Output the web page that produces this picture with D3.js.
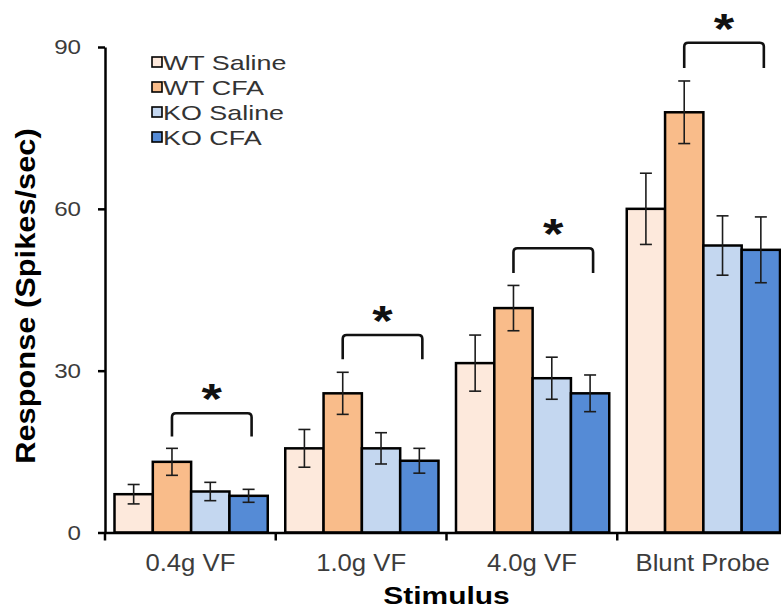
<!DOCTYPE html>
<html>
<head>
<meta charset="utf-8">
<script src="https://cdn.jsdelivr.net/npm/d3@7"></script>
<style>
  body { margin: 0; background: #fff; }
  text { font-family: "Liberation Sans", Arial, sans-serif; }
</style>
</head>
<body>
<script>
const categories = ["0.4g VF", "1.0g VF", "4.0g VF", "Blunt Probe"];
const series = ["WT Saline", "WT CFA", "KO Saline", "KO CFA"];
const colors = ["#fde9dc", "#f9bc8a", "#c4d7f0", "#558bd6"];

// mean response per stimulus, one array per group
const wtSaline = [7.1, 15.6, 31.4, 60.0];
const wtCFA = [13.1, 25.8, 41.6, 77.9];
const koSaline = [7.6, 15.6, 28.6, 53.2];
const koCFA = [6.8, 13.3, 25.8, 52.4];

// error bar half-lengths
const wtSalineErr = [1.8, 3.5, 5.2, 6.6];
const wtCFAErr = [2.5, 3.9, 4.2, 5.8];
const koSalineErr = [1.7, 2.9, 3.9, 5.5];
const koCFAErr = [1.2, 2.3, 3.4, 6.1];

// significance brackets (WT CFA vs KO CFA), in response units
const bracketTop = [22.1, 36.6, 52.7, 90.8];
const bracketLeg = [17.8, 32.1, 48.1, 86.1];

const yTicks = [0, 30, 60, 90];

const values = [wtSaline, wtCFA, koSaline, koCFA];
const errors = [wtSalineErr, wtCFAErr, koSalineErr, koCFAErr];

const width = 781, height = 611;

const svg = d3.select("body").append("svg")
    .attr("width", width)
    .attr("height", height);

const x0 = d3.scaleBand().domain(categories).range([105, 788]).padding(0);
const x1 = d3.scaleBand().domain(series).range([9.5, x0.bandwidth() - 8]);
const y = d3.scaleLinear().domain([0, 90]).range([532.5, 47]);

// widen text to match the stretched look of the original figure
function stretch(sel, k) {
    sel.each(function () {
        const len = this.getComputedTextLength();
        d3.select(this).attr("textLength", len * k).attr("lengthAdjust", "spacingAndGlyphs");
    });
}

const rows = [];
categories.forEach((c, i) => {
    series.forEach((s, j) => {
        rows.push({cat: c, ser: s, idx: j, v: values[j][i], e: errors[j][i]});
    });
});

// bars
svg.append("g")
    .selectAll("rect")
    .data(rows)
    .enter()
    .append("rect")
    .attr("x", d => x0(d.cat) + x1(d.ser))
    .attr("y", d => y(d.v))
    .attr("width", x1.bandwidth())
    .attr("height", d => y(0) - y(d.v))
    .attr("fill", d => colors[d.idx])
    .attr("stroke", "#000")
    .attr("stroke-width", 2.5);

// error bars
const eb = svg.append("g")
    .attr("stroke", "#1c1c1c")
    .attr("stroke-width", 1.6)
    .selectAll("g")
    .data(rows)
    .enter()
    .append("g")
    .attr("transform", d => `translate(${x0(d.cat) + x1(d.ser) + x1.bandwidth() / 2},0)`);
eb.append("line")
    .attr("y1", d => y(d.v + d.e))
    .attr("y2", d => y(d.v - d.e));
eb.append("line")
    .attr("x1", -6).attr("x2", 6)
    .attr("y1", d => y(d.v + d.e))
    .attr("y2", d => y(d.v + d.e));
eb.append("line")
    .attr("x1", -6).attr("x2", 6)
    .attr("y1", d => y(d.v - d.e))
    .attr("y2", d => y(d.v - d.e));

// brackets + stars
const bx = (c, s) => x0(c) + x1(s) + x1.bandwidth() / 2;
const br = svg.append("g")
    .selectAll("g")
    .data(categories)
    .enter()
    .append("g");
br.append("path")
    .attr("fill", "none")
    .attr("stroke", "#111")
    .attr("stroke-width", 2.6)
    .attr("d", (c, i) => {
        const xa = bx(c, "WT CFA"), xb = bx(c, "KO CFA") + 3;
        const t = y(bracketTop[i]), l = y(bracketLeg[i]);
        return `M${xa},${l} L${xa},${t + 4} Q${xa},${t} ${xa + 4},${t} L${xb - 4},${t} Q${xb},${t} ${xb},${t + 4} L${xb},${l}`;
    });
br.append("text")
    .attr("x", (c, i) => (bx(c, "WT CFA") + bx(c, "KO CFA") + 3) / 2)
    .attr("y", (c, i) => y(bracketTop[i]))
    .attr("text-anchor", "middle")
    .attr("font-size", 42)
    .attr("font-weight", "bold")
    .attr("fill", "#111")
    .text("*")
    .call(stretch, 1.25);

// y axis
const yAxis = svg.append("g")
    .attr("transform", "translate(105,0)")
    .call(d3.axisLeft(y).tickValues(yTicks).tickSizeInner(7).tickSizeOuter(0).tickPadding(17));
yAxis.select(".domain").attr("stroke", "#000").attr("stroke-width", 2.5);
yAxis.selectAll(".tick line").attr("stroke", "#000").attr("stroke-width", 2.5);
yAxis.selectAll(".tick text")
    .attr("font-size", 21)
    .attr("fill", "#3c3c3c")
    .attr("font-family", "Liberation Sans, Arial, sans-serif")
    .call(stretch, 1.15);

// x axis
const xAxis = svg.append("g")
    .attr("transform", `translate(0,${y(0)})`)
    .call(d3.axisBottom(x0).tickSize(0).tickSizeOuter(0));
xAxis.select(".domain").attr("stroke", "#000").attr("stroke-width", 2.5);
xAxis.selectAll(".tick text")
    .attr("y", 38.5)
    .attr("dy", 0)
    .attr("font-size", 24)
    .attr("fill", "#3c3c3c")
    .attr("font-family", "Liberation Sans, Arial, sans-serif")
    .call(stretch, 1.07);

const bounds = [x0(categories[0])].concat(categories.slice(0, -1).map(c => x0(c) + x0.bandwidth()));
svg.append("g")
    .selectAll("line")
    .data(bounds)
    .enter()
    .append("line")
    .attr("x1", d => d).attr("x2", d => d)
    .attr("y1", y(0)).attr("y2", y(0) + 8)
    .attr("stroke", "#000")
    .attr("stroke-width", 2.5);

// axis titles
svg.append("text")
    .attr("x", 446.5)
    .attr("y", 604)
    .attr("text-anchor", "middle")
    .attr("font-size", 23)
    .attr("font-weight", "bold")
    .text("Stimulus")
    .call(stretch, 1.3);

svg.append("text")
    .attr("transform", "translate(35,296) rotate(-90)")
    .attr("text-anchor", "middle")
    .attr("font-size", 28)
    .attr("font-weight", "bold")
    .text("Response (Spikes/sec)")
    .call(stretch, 1.1);

// legend
const lg = svg.append("g")
    .selectAll("g")
    .data(series)
    .enter()
    .append("g")
    .attr("transform", (d, i) => `translate(152,${62 + i * 25})`);
lg.append("rect")
    .attr("x", 0).attr("y", -5)
    .attr("width", 10).attr("height", 10)
    .attr("fill", (d, i) => colors[i])
    .attr("stroke", "#000")
    .attr("stroke-width", 1.6);
lg.append("text")
    .attr("x", 11)
    .attr("y", 7.5)
    .attr("font-size", 21)
    .attr("fill", "#333")
    .text(d => d)
    .call(stretch, 1.28);
</script>
</body>
</html>
